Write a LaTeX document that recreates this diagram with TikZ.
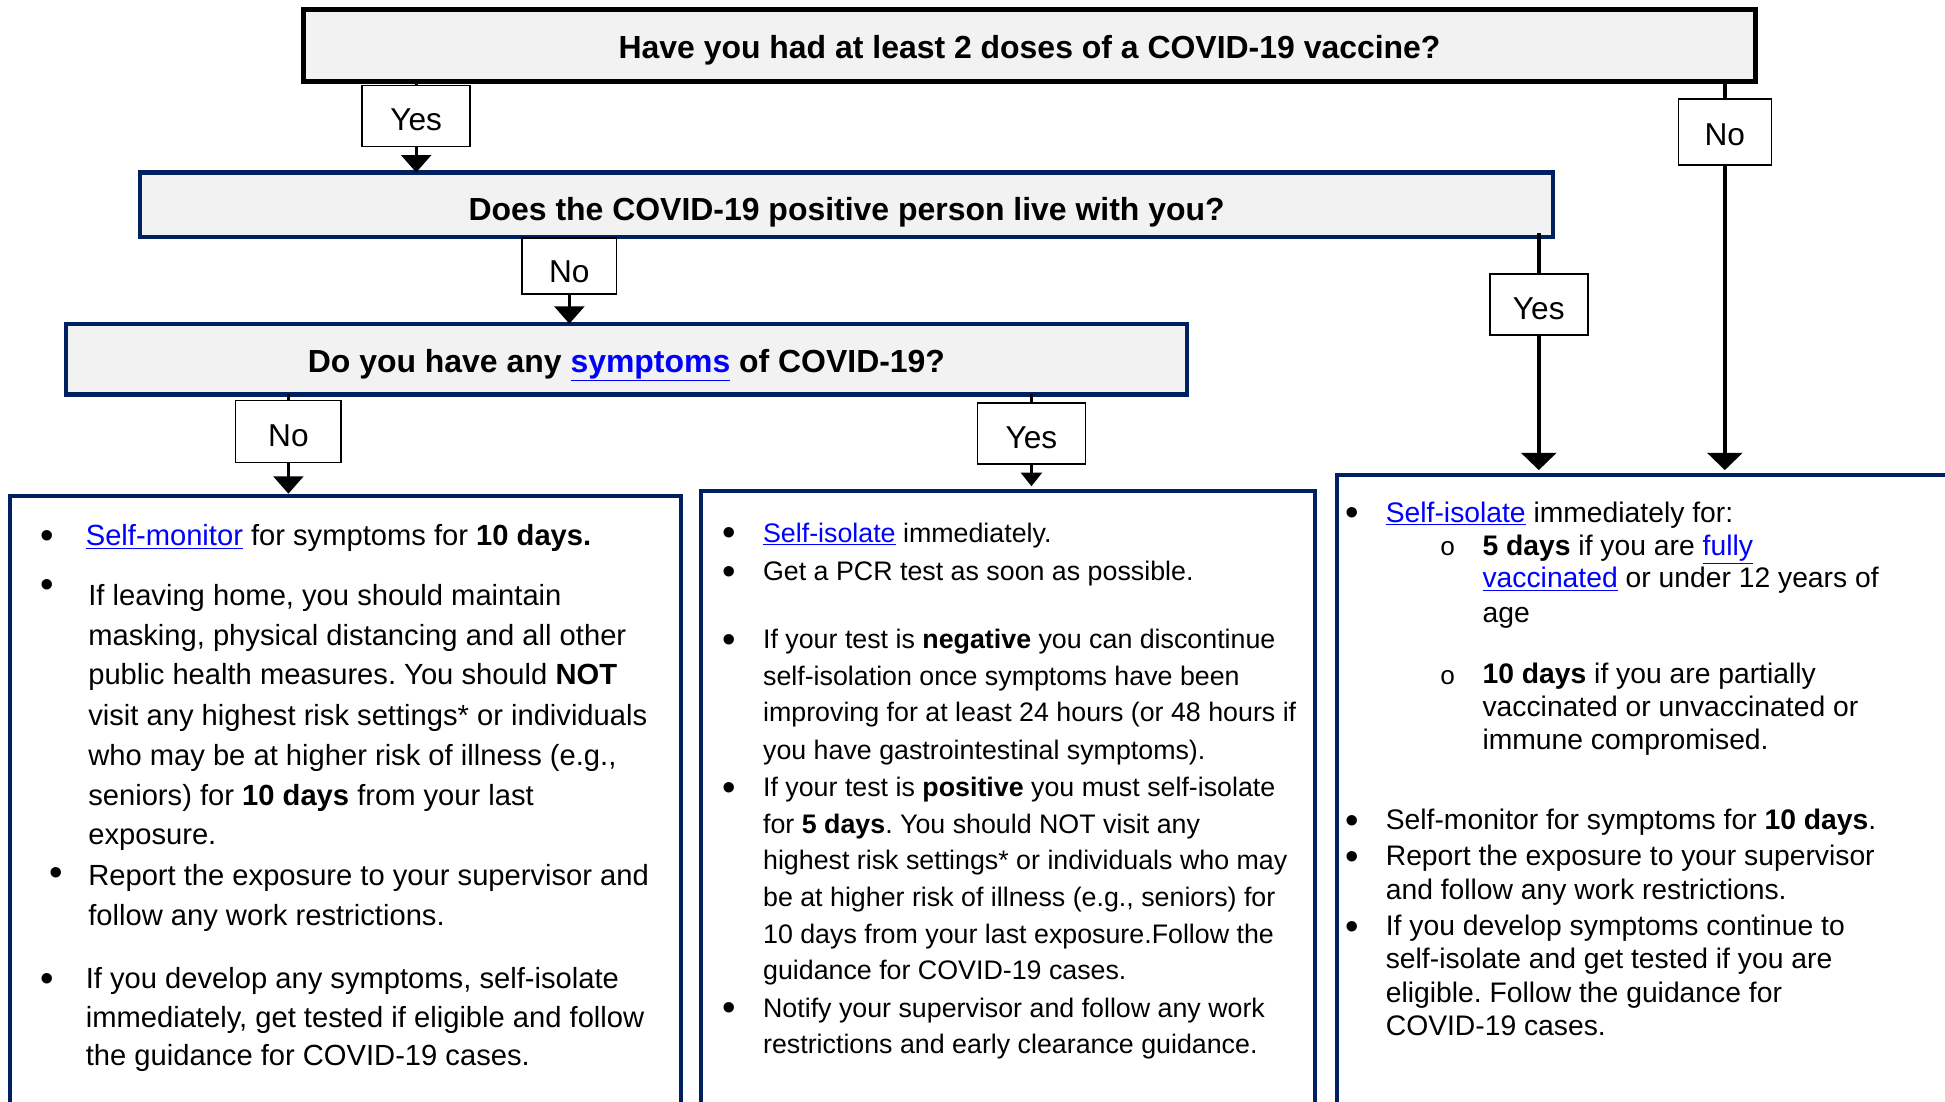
\documentclass[tikz,border=0pt]{standalone}
\usepackage{fontspec}
\setmainfont{Liberation Sans}
\newfontfamily\monofnt{Liberation Mono}
\usetikzlibrary{arrows.meta}
\definecolor{navy}{HTML}{002060}
\definecolor{qgray}{HTML}{F2F2F2}
\definecolor{lnkblue}{HTML}{0000FF}
\newcommand{\lnk}[1]{\textcolor{lnkblue}{\underline{#1}}}
\frenchspacing
\begin{document}
\begin{tikzpicture}[x=1pt,y=-1pt,
  qbox/.style={draw=navy, line width=3.5pt, fill=qgray, inner sep=0pt, outer sep=0pt,
    text depth=0pt, font=\bfseries\fontsize{25.75}{30}\selectfont},
  lab/.style={draw=black, line width=1.3pt, fill=white, inner sep=0pt, outer sep=0pt,
    text height=24pt, text depth=0pt, font=\fontsize{25.5}{28}\selectfont},
  obox/.style={draw=navy, line width=3.5pt, inner sep=0pt, outer sep=0pt},
  conn/.style={line width=2.5pt},
  arrA/.style={line width=2.5pt, -{Triangle[width=24pt,length=14pt]}},
  arrR/.style={line width=3.5pt, -{Triangle[width=28pt,length=14pt]}},
  arrS/.style={line width=1.8pt, -{Triangle[width=17pt,length=11pt]}},
  tl/.style={anchor=base west, inner sep=0pt},
  bul/.style={anchor=base, inner sep=0pt, font=\fontsize{31}{31}\selectfont},
  fL/.style={font=\fontsize{23.5}{28}\selectfont},
  fM/.style={font=\fontsize{21.6}{26}\selectfont},
  fR/.style={font=\fontsize{22.8}{27}\selectfont},
  sub/.style={anchor=base, inner sep=0pt, font=\monofnt\fontsize{21}{24}\selectfont}
]
\useasboundingbox (0,0) rectangle (1568,888);

% question boxes
\node[qbox, draw=black, line width=4pt, minimum width=1170pt, minimum height=58pt, text height=20pt] (q1) at (830,37)
  {Have you had at least 2 doses of a COVID-19 vaccine?};
\node[qbox, minimum width=1139pt, minimum height=52pt, text height=26pt] (q2) at (682.5,165)
  {Does the COVID-19 positive person live with you?};
\node[qbox, minimum width=904pt, minimum height=57pt, text height=21pt] (q3) at (505,289.5)
  {Do you have any \lnk{symptoms} of COVID-19?};

% outcome boxes
\node[obox, minimum width=541pt, minimum height=505pt] (bl) at (278.5,652.5) {};
\node[obox, minimum width=495pt, minimum height=509pt] (bm) at (812.5,650.5) {};
\node[obox, minimum width=512pt, minimum height=522pt] (br) at (1334,644) {};

% labels
\node[lab, minimum width=87pt, minimum height=49pt] (Y1) at (335.5,93.5) {Yes};
\node[lab, minimum width=76pt, minimum height=45pt, text height=26pt] (N1) at (459,214.5) {No};
\node[lab, minimum width=79pt, minimum height=49pt] (YR) at (1240.5,245.5) {Yes};
\node[lab, minimum width=75pt, minimum height=53pt, text height=21pt] (NR) at (1390.5,106.5) {No};
\node[lab, minimum width=85pt, minimum height=50pt] (N3) at (232.5,348) {No};
\node[lab, minimum width=87pt, minimum height=49pt] (Y3) at (831.5,349.5) {Yes};

% connectors
\draw[conn] (q1.south -| Y1) -- (Y1.north);
\draw[arrA] (Y1.south) -- (q2.north -| Y1);
\draw[conn] (q2.south -| N1) -- (N1.north);
\draw[arrA] (N1.south) -- (q3.north -| N1);
\draw[line width=3.5pt] ([yshift=3pt]q2.south -| YR) -- (YR.north);
\draw[arrR, shorten >=4pt] (YR.south) -- (br.north -| YR);
\draw[line width=3.5pt] (q1.south -| NR) -- (NR.north);
\draw[arrR, shorten >=4pt] (NR.south) -- (br.north -| NR);
\draw[conn] (q3.south -| N3) -- (N3.north);
\draw[arrA, shorten >=2pt] (N3.south) -- (bl.north -| N3);
\draw[line width=1.8pt] (q3.south -| Y3) -- (Y3.north);
\draw[arrS, shorten >=4pt] (Y3.south) -- (bm.north -| Y3);

% left box text
\begin{scope}[fL]
\node[bul] (bL1) at (38,442) {•};
\node[bul] (bL2) at (38,482) {•};
\node[bul] (bL3) at (45,714) {•};
\node[bul] (bL4) at (38,799) {•};
\node[tl] (L1) at (69,440) {\lnk{Self-monitor} for symptoms for \textbf{10 days.}};
\node[tl] (L2) at (71,488) {If leaving home, you should maintain};
\node[tl] (L3) at (71,520) {masking, physical distancing and all other};
\node[tl] (L4) at (71,552) {public health measures. You should \textbf{NOT}};
\node[tl] (L5) at (71,585) {visit any highest risk settings* or individuals};
\node[tl] (L6) at (71,617) {who may be at higher risk of illness (e.g.,};
\node[tl] (L7) at (71,649) {seniors) for \textbf{10 days} from your last};
\node[tl] (L8) at (71,681) {exposure.};
\node[tl] (L9) at (71,714) {Report the exposure to your supervisor and};
\node[tl] (L10) at (71,746) {follow any work restrictions.};
\node[tl] (L11) at (69,797) {If you develop any symptoms, self-isolate};
\node[tl] (L12) at (69,828) {immediately, get tested if eligible and follow};
\node[tl] (L13) at (69,859) {the guidance for COVID-19 cases.};
\end{scope}

% middle box text
\begin{scope}[fM]
\node[bul] (bM1) at (588,440) {•};
\node[bul] (bM2) at (588,471) {•};
\node[bul] (bM3) at (588,526) {•};
\node[bul] (bM4) at (588,645) {•};
\node[bul] (bM5) at (588,823) {•};
\node[tl] (M1) at (615,437) {\lnk{Self-isolate} immediately.};
\node[tl] (M2) at (615,468) {Get a PCR test as soon as possible.};
\node[tl] (M3) at (615,523) {If your test is \textbf{negative} you can discontinue};
\node[tl] (M4) at (615,553) {self-isolation once symptoms have been};
\node[tl] (M5) at (615,582) {improving for at least 24 hours (or 48 hours if};
\node[tl] (M6) at (615,612) {you have gastrointestinal symptoms).};
\node[tl] (M7) at (615,642) {If your test is \textbf{positive} you must self-isolate};
\node[tl] (M8) at (615,672) {for \textbf{5 days}. You should NOT visit any};
\node[tl] (M9) at (615,701) {highest risk settings* or individuals who may};
\node[tl] (M10) at (615,731) {be at higher risk of illness (e.g., seniors) for};
\node[tl] (M11) at (615,761) {10 days from your last exposure.Follow the};
\node[tl] (M12) at (615,790) {guidance for COVID-19 cases.};
\node[tl] (M13) at (615,820) {Notify your supervisor and follow any work};
\node[tl] (M14) at (615,849) {restrictions and early clearance guidance.};
\end{scope}

% right box text
\begin{scope}[fR]
\node[bul] (bR1) at (1090,424) {•};
\node[bul] (bR2) at (1090,672) {•};
\node[bul] (bR3) at (1090,701) {•};
\node[bul] (bR4) at (1090,757) {•};
\node[sub] (sR1) at (1167,448) {o};
\node[sub] (sR2) at (1167,552) {o};
\node[tl] (R1) at (1117,421) {\lnk{Self-isolate} immediately for:};
\node[tl] (R2) at (1195,448) {\textbf{5 days} if you are \lnk{fully}};
\node[tl] (R3) at (1195,474) {\lnk{vaccinated} or under 12 years of};
\node[tl] (R4) at (1195,502) {age};
\node[tl] (R5) at (1195,551) {\textbf{10 days} if you are partially};
\node[tl] (R6) at (1195,578) {vaccinated or unvaccinated or};
\node[tl] (R7) at (1195,604) {immune compromised.};
\node[tl] (R8) at (1117,669) {Self-monitor for symptoms for \textbf{10 days}.};
\node[tl] (R9) at (1117,698) {Report the exposure to your supervisor};
\node[tl] (R10) at (1117,725) {and follow any work restrictions.};
\node[tl] (R11) at (1117,754) {If you develop symptoms continue to};
\node[tl] (R12) at (1117,781) {self-isolate and get tested if you are};
\node[tl] (R13) at (1117,808) {eligible. Follow the guidance for};
\node[tl] (R14) at (1117,835) {COVID-19 cases.};
\end{scope}
\end{tikzpicture}
\end{document}
